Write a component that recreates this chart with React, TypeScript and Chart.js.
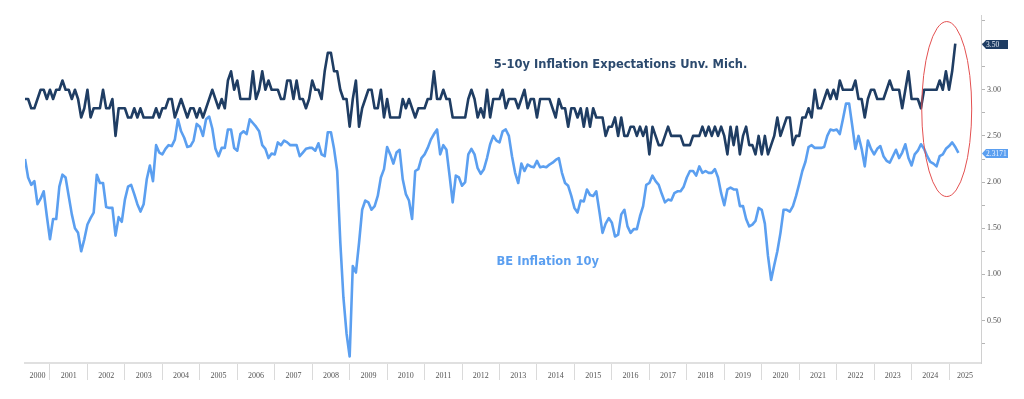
import React, { useEffect, useRef } from 'react';
import { Chart, registerables } from 'chart.js';

Chart.register(...registerables);

// Monthly series, first value = May 2000
const START_YEAR = 2000;
const START_MONTH = 4; // 0-based month index (May)

// 5-10y Inflation Expectations, Univ. of Michigan (%)
const umich: number[] = [
  2.9, 2.9, 2.8, 2.8, 2.9, 3.0, 3.0, 2.9, // 2000 (May-Dec)
  3.0, 2.9, 3.0, 3.0, 3.1, 3.0, 3.0, 2.9, 3.0, 2.9, 2.7, 2.8, // 2001
  3.0, 2.7, 2.8, 2.8, 2.8, 3.0, 2.8, 2.8, 2.9, 2.5, 2.8, 2.8, // 2002
  2.8, 2.7, 2.7, 2.8, 2.7, 2.8, 2.7, 2.7, 2.7, 2.7, 2.8, 2.7, // 2003
  2.8, 2.8, 2.9, 2.9, 2.7, 2.8, 2.9, 2.8, 2.7, 2.8, 2.8, 2.7, // 2004
  2.8, 2.7, 2.8, 2.9, 3.0, 2.9, 2.8, 2.9, 2.8, 3.1, 3.2, 3.0, // 2005
  3.1, 2.9, 2.9, 2.9, 2.9, 3.2, 2.9, 3.0, 3.2, 3.0, 3.1, 3.0, // 2006
  3.0, 3.0, 2.9, 2.9, 3.1, 3.1, 2.9, 3.1, 2.9, 2.9, 2.8, 2.9, // 2007
  3.1, 3.0, 3.0, 2.9, 3.2, 3.4, 3.4, 3.2, 3.2, 3.0, 2.9, 2.9, // 2008
  2.6, 2.9, 3.1, 2.6, 2.8, 2.9, 3.0, 3.0, 2.8, 2.8, 3.0, 2.7, // 2009
  2.9, 2.7, 2.7, 2.7, 2.7, 2.9, 2.8, 2.9, 2.8, 2.7, 2.8, 2.8, // 2010
  2.8, 2.9, 2.9, 3.2, 2.9, 2.9, 3.0, 2.9, 2.9, 2.7, 2.7, 2.7, // 2011
  2.7, 2.7, 2.9, 3.0, 2.9, 2.7, 2.8, 2.7, 3.0, 2.7, 2.9, 2.9, // 2012
  2.9, 3.0, 2.8, 2.9, 2.9, 2.9, 2.8, 2.9, 3.0, 2.8, 2.9, 2.9, // 2013
  2.7, 2.9, 2.9, 2.9, 2.9, 2.8, 2.7, 2.9, 2.8, 2.8, 2.6, 2.8, // 2014
  2.8, 2.7, 2.8, 2.6, 2.8, 2.6, 2.8, 2.7, 2.7, 2.7, 2.5, 2.6, // 2015
  2.6, 2.7, 2.5, 2.7, 2.5, 2.5, 2.6, 2.6, 2.5, 2.6, 2.5, 2.6, // 2016
  2.3, 2.6, 2.5, 2.4, 2.4, 2.5, 2.6, 2.5, 2.5, 2.5, 2.5, 2.4, // 2017
  2.4, 2.4, 2.5, 2.5, 2.5, 2.6, 2.5, 2.6, 2.5, 2.6, 2.5, 2.6, // 2018
  2.5, 2.3, 2.6, 2.4, 2.6, 2.3, 2.5, 2.6, 2.4, 2.4, 2.3, 2.5, // 2019
  2.3, 2.5, 2.3, 2.4, 2.5, 2.7, 2.5, 2.6, 2.7, 2.7, 2.4, 2.5, // 2020
  2.5, 2.7, 2.7, 2.8, 2.7, 3.0, 2.8, 2.8, 2.9, 3.0, 2.9, 3.0, // 2021
  2.9, 3.1, 3.0, 3.0, 3.0, 3.0, 3.1, 2.9, 2.9, 2.7, 2.9, 3.0, // 2022
  3.0, 2.9, 2.9, 2.9, 3.0, 3.1, 3.0, 3.0, 3.0, 2.8, 3.0, 3.2, // 2023
  2.9, 2.9, 2.9, 2.8, 3.0, 3.0, 3.0, 3.0, 3.0, 3.1, 3.0, 3.2, // 2024
  3.0, 3.2, 3.5, // 2025
];

// 10y breakeven inflation (%)
const breakeven: number[] = [
  2.25, 2.05, 1.97, 2.01, 1.76, 1.82, 1.90, 1.63, // 2000 (May-Dec)
  1.38, 1.60, 1.60, 1.95, 2.08, 2.05, 1.85, 1.65, 1.50, 1.45, 1.25, 1.38, // 2001
  1.54, 1.61, 1.67, 2.08, 1.99, 1.99, 1.73, 1.72, 1.72, 1.42, 1.62, 1.57, // 2002
  1.81, 1.95, 1.97, 1.87, 1.76, 1.68, 1.76, 2.03, 2.18, 2.01, 2.40, 2.32, // 2003
  2.30, 2.36, 2.40, 2.39, 2.46, 2.68, 2.55, 2.48, 2.38, 2.39, 2.45, 2.63, // 2004
  2.60, 2.50, 2.68, 2.71, 2.58, 2.36, 2.28, 2.37, 2.37, 2.57, 2.57, 2.37, // 2005
  2.34, 2.52, 2.55, 2.52, 2.68, 2.64, 2.60, 2.55, 2.40, 2.36, 2.26, 2.31, // 2006
  2.30, 2.43, 2.40, 2.45, 2.43, 2.40, 2.40, 2.40, 2.28, 2.32, 2.36, 2.37, // 2007
  2.37, 2.34, 2.42, 2.30, 2.28, 2.54, 2.54, 2.36, 2.12, 1.35, 0.75, 0.36, // 2008
  0.11, 1.09, 1.02, 1.34, 1.70, 1.80, 1.78, 1.70, 1.74, 1.85, 2.05, 2.14, // 2009
  2.38, 2.30, 2.20, 2.32, 2.35, 2.03, 1.87, 1.80, 1.60, 2.12, 2.14, 2.26, // 2010
  2.30, 2.37, 2.46, 2.52, 2.57, 2.30, 2.40, 2.35, 2.07, 1.78, 2.07, 2.05, // 2011
  1.96, 2.00, 2.30, 2.36, 2.30, 2.15, 2.09, 2.14, 2.26, 2.41, 2.50, 2.45, // 2012
  2.43, 2.55, 2.57, 2.50, 2.28, 2.10, 1.99, 2.20, 2.12, 2.19, 2.17, 2.16, // 2013
  2.23, 2.16, 2.17, 2.16, 2.19, 2.21, 2.24, 2.26, 2.10, 1.99, 1.96, 1.85, // 2014
  1.72, 1.67, 1.80, 1.79, 1.92, 1.86, 1.85, 1.90, 1.68, 1.45, 1.55, 1.61, // 2015
  1.56, 1.41, 1.43, 1.65, 1.70, 1.52, 1.45, 1.49, 1.49, 1.63, 1.74, 1.97, // 2016
  1.99, 2.07, 2.01, 1.97, 1.87, 1.78, 1.81, 1.80, 1.88, 1.90, 1.90, 1.95, // 2017
  2.05, 2.12, 2.12, 2.07, 2.17, 2.10, 2.12, 2.10, 2.10, 2.14, 2.05, 1.88, // 2018
  1.75, 1.92, 1.94, 1.92, 1.92, 1.74, 1.74, 1.60, 1.52, 1.54, 1.58, 1.72, // 2019
  1.70, 1.55, 1.20, 0.94, 1.10, 1.25, 1.45, 1.70, 1.70, 1.68, 1.74, 1.85, // 2020
  1.98, 2.12, 2.22, 2.38, 2.40, 2.37, 2.37, 2.37, 2.38, 2.50, 2.57, 2.56, // 2021
  2.57, 2.52, 2.68, 2.85, 2.85, 2.61, 2.36, 2.50, 2.36, 2.17, 2.45, 2.36, // 2022
  2.30, 2.36, 2.39, 2.28, 2.23, 2.21, 2.28, 2.35, 2.26, 2.32, 2.41, 2.26, // 2023
  2.18, 2.30, 2.34, 2.41, 2.36, 2.28, 2.22, 2.20, 2.17, 2.28, 2.30, 2.36, // 2024
  2.39, 2.43, 2.38, 2.3171, // 2025
];

// Year labels on the time axis
const yearLabels: number[] = [
  2000, 2001, 2002, 2003, 2004, 2005, 2006, 2007, 2008, 2009, 2010, 2011, 2012,
  2013, 2014, 2015, 2016, 2017, 2018, 2019, 2020, 2021, 2022, 2023, 2024, 2025,
];

const seriesNames = ['5-10y Inflation Expectations Unv. Mich.', 'BE Inflation 10y'];
const flagDecimals = [2, 4];

// Axis ranges
const X_MIN = START_YEAR + START_MONTH / 12;
const X_MAX = 2025.853;
const Y_MIN = 0.04;
const Y_MAX = 3.81;

// Annotation anchors (data coordinates)
const titleAnchors = [
  { x: 2012.848, y: 3.234 },
  { x: 2012.92, y: 1.103 },
];
const ellipse = { cx: 2024.938, cy: 2.791, rx: 0.667, ry: 0.948 };

const DARK = '#1f3d63';
const LIGHT = '#5b9ff0';
const TEXT_DARK = '#2c4a6e';
const TICK_FONT = "'Liberation Serif', serif";

const toPoints = (vals: number[]) =>
  vals.map((v, i) => ({ x: START_YEAR + (START_MONTH + i) / 12, y: v }));

const decorPlugin = {
  id: 'decor',
  afterDatasetsDraw(chart: any) {
    const { ctx, chartArea, scales } = chart;
    const xs = scales.x;
    const ys = scales.y;
    ctx.save();
    // annotation texts
    ctx.font = "bold 11.5px 'DejaVu Sans', Verdana, sans-serif";
    ctx.textBaseline = 'alphabetic';
    ctx.textAlign = 'left';
    const colors = [TEXT_DARK, LIGHT];
    titleAnchors.forEach((a, i) => {
      ctx.fillStyle = colors[i];
      ctx.fillText(seriesNames[i], xs.getPixelForValue(a.x), ys.getPixelForValue(a.y));
    });
    // red ellipse
    const cx = xs.getPixelForValue(ellipse.cx);
    const cy = ys.getPixelForValue(ellipse.cy);
    const rx = Math.abs(xs.getPixelForValue(ellipse.cx + ellipse.rx) - cx);
    const ry = Math.abs(ys.getPixelForValue(ellipse.cy + ellipse.ry) - cy);
    ctx.beginPath();
    ctx.ellipse(cx, cy, rx, ry, 0, 0, Math.PI * 2);
    ctx.strokeStyle = '#e35050';
    ctx.lineWidth = 1;
    ctx.stroke();
    ctx.restore();
  },
  afterDraw(chart: any) {
    const { ctx, chartArea, scales } = chart;
    const ys = scales.y;
    const series = [umich, breakeven];
    const fills = [DARK, LIGHT];
    const textCols = ['#e8eef6', '#eef5ff'];
    ctx.save();
    series.forEach((s, i) => {
      const v = s[s.length - 1];
      const py = Math.round(ys.getPixelForValue(v)) + 0.5;
      const x0 = chartArea.right + 1;
      const h = 4.5;
      ctx.beginPath();
      ctx.moveTo(x0, py);
      ctx.lineTo(x0 + 4, py - h);
      ctx.lineTo(x0 + 26, py - h);
      ctx.lineTo(x0 + 26, py + h);
      ctx.lineTo(x0 + 4, py + h);
      ctx.closePath();
      ctx.fillStyle = fills[i];
      ctx.fill();
      ctx.font = `7.5px ${TICK_FONT}`;
      ctx.fillStyle = textCols[i];
      ctx.textAlign = 'left';
      ctx.textBaseline = 'middle';
      ctx.fillText(v.toFixed(flagDecimals[i]), x0 + 4, py + 0.5);
    });
    ctx.restore();
  },
};

export default function App() {
  const ref = useRef<HTMLCanvasElement>(null);

  useEffect(() => {
    if (!ref.current) return;
    const chart = new Chart(ref.current, {
      type: 'line',
      data: {
        datasets: [
          {
            label: seriesNames[0],
            data: toPoints(umich),
            borderColor: DARK,
            borderWidth: 2.6,
            pointRadius: 0,
            tension: 0,
            borderJoinStyle: 'round',
          },
          {
            label: seriesNames[1],
            data: toPoints(breakeven),
            borderColor: LIGHT,
            borderWidth: 2.6,
            pointRadius: 0,
            tension: 0,
            borderJoinStyle: 'round',
          },
        ],
      },
      options: {
        animation: false,
        responsive: true,
        maintainAspectRatio: false,
        layout: { padding: { left: 25, top: 15, right: 0, bottom: 0 } },
        plugins: { legend: { display: false }, tooltip: { enabled: false } },
        scales: {
          x: {
            type: 'linear',
            min: X_MIN,
            max: X_MAX,
            afterFit: (s: any) => {
              s.height = 36;
            },
            afterBuildTicks: (s: any) => {
              const ticks: { value: number }[] = [];
              yearLabels.forEach((yr) => {
                if (yr > X_MIN && yr < X_MAX) ticks.push({ value: yr });
                const lo = Math.max(yr, X_MIN);
                const hi = Math.min(yr + 1, X_MAX);
                ticks.push({ value: (lo + hi) / 2 });
              });
              ticks.sort((a, b) => a.value - b.value);
              s.ticks = ticks;
            },
            grid: {
              drawOnChartArea: false,
              drawTicks: true,
              tickLength: 17,
              color: (c: any) =>
                c.tick && Number.isInteger(c.tick.value) ? '#dadada' : 'rgba(0,0,0,0)',
              lineWidth: 1,
            },
            border: { color: '#e0e0e0', width: 2 },
            ticks: {
              autoSkip: false,
              maxRotation: 0,
              minRotation: 0,
              padding: -9,
              color: '#555',
              font: { family: TICK_FONT, size: 8 },
              callback: (v: any) => (Number.isInteger(v) ? '' : String(Math.floor(v))),
            },
          },
          y: {
            position: 'right',
            min: Y_MIN,
            max: Y_MAX,
            afterFit: (s: any) => {
              s.width = 43;
            },
            grid: {
              drawOnChartArea: false,
              drawTicks: true,
              tickLength: 4,
              color: '#b5b5b5',
            },
            border: { color: '#d0d0d0', width: 1 },
            ticks: {
              stepSize: 0.25,
              includeBounds: false,
              padding: 2,
              color: '#555',
              font: { family: TICK_FONT, size: 8 },
              callback: (v: any) =>
                Math.abs(v * 2 - Math.round(v * 2)) < 1e-6 ? Number(v).toFixed(2) : '',
            },
          },
        },
      },
      plugins: [decorPlugin],
    });
    return () => chart.destroy();
  }, []);

  return (
    <div style={{ position: 'relative', width: 1024, height: 399 }}>
      <style>{'body{margin:0;background:#fff;}'}</style>
      <canvas ref={ref} />
    </div>
  );
}
